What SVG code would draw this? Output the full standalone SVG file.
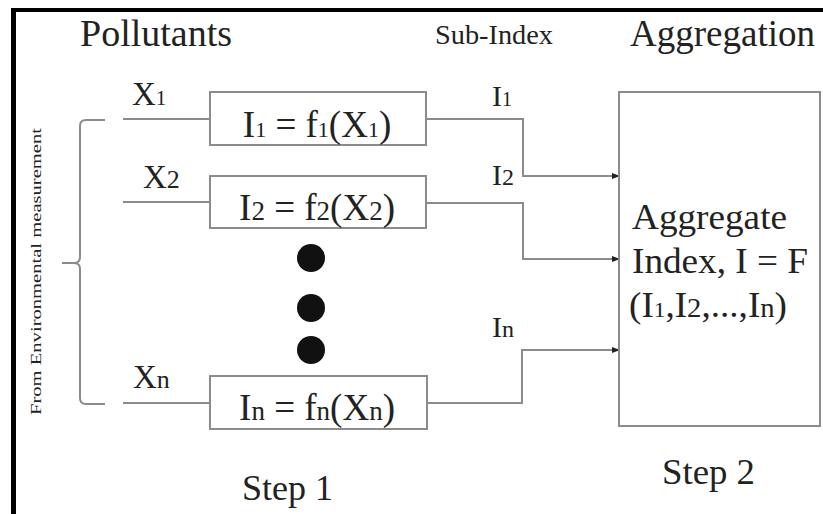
<svg xmlns="http://www.w3.org/2000/svg" width="823" height="514" viewBox="0 0 823 514">
<defs>
<style>
.t{font-family:"Liberation Serif","Times New Roman",serif;fill:#222;}
.box{fill:#fff;stroke:#8c8c8c;stroke-width:2;}
.ln{fill:none;stroke:#8c8c8c;stroke-width:2;}
</style>
<marker id="arr" markerWidth="8" markerHeight="6" refX="7" refY="3" orient="auto" markerUnits="userSpaceOnUse">
<path d="M0,0 L8,3 L0,6 Z" fill="#222"/>
</marker>
</defs>
<rect width="823" height="514" fill="#fff"/>
<rect x="11" y="8" width="812" height="4" fill="#000"/>
<rect x="11" y="8" width="5" height="506" fill="#000"/>

<g id="headers">
<text class="t" x="80" y="46" font-size="38" textLength="152" lengthAdjust="spacingAndGlyphs">Pollutants</text>
<text class="t" x="435" y="44" font-size="28" textLength="118" lengthAdjust="spacingAndGlyphs">Sub-Index</text>
<text class="t" x="630" y="46" font-size="37" textLength="185" lengthAdjust="spacingAndGlyphs">Aggregation</text>
<text class="t" x="242" y="500" font-size="36" textLength="91" lengthAdjust="spacingAndGlyphs">Step 1</text>
<text class="t" x="662" y="484" font-size="36" textLength="93" lengthAdjust="spacingAndGlyphs">Step 2</text>
</g>

<g id="source">
<path class="ln" d="M105,120 H86 Q80,120 80,126 V257 Q80,263 74,263 H62 M74,263 Q80,263 80,269 V398 Q80,404 86,404 H105"/>
<text class="t" transform="translate(41,415) rotate(-90)" font-size="14" textLength="287" lengthAdjust="spacingAndGlyphs">From Environmental measurement</text>
</g>

<g id="connectors">
<line class="ln" x1="123" y1="119" x2="210" y2="119"/>
<line class="ln" x1="123" y1="202" x2="210" y2="202"/>
<line class="ln" x1="123" y1="403" x2="210" y2="403"/>
<polyline class="ln" points="426,119 523,119 523,176 619,176" marker-end="url(#arr)"/>
<polyline class="ln" points="426,203 523,203 523,259 619,259" marker-end="url(#arr)"/>
<polyline class="ln" points="427,403 522,403 522,350 619,350" marker-end="url(#arr)"/>
</g>

<g id="labels">
<text class="t" x="132" y="105" font-size="33">X<tspan font-size="21">1</tspan></text>
<text class="t" x="143" y="188" font-size="33">X<tspan font-size="26">2</tspan></text>
<text class="t" x="133" y="388" font-size="33">X<tspan font-size="26">n</tspan></text>
<text class="t" x="492" y="106" font-size="30">I<tspan font-size="20">1</tspan></text>
<text class="t" x="492" y="185" font-size="30">I<tspan font-size="24">2</tspan></text>
<text class="t" x="492" y="337" font-size="30">I<tspan font-size="24">n</tspan></text>
</g>

<g id="node1">
<rect class="box" x="210" y="92" width="216" height="53"/>
<text class="t" x="317" y="137" font-size="37" text-anchor="middle">I<tspan font-size="22">1</tspan> = f<tspan font-size="22">1</tspan>(X<tspan font-size="22">1</tspan>)</text>
</g>
<g id="node2">
<rect class="box" x="210" y="176" width="216" height="52"/>
<text class="t" x="317" y="220" font-size="37" text-anchor="middle">I<tspan font-size="27">2</tspan> = f<tspan font-size="27">2</tspan>(X<tspan font-size="27">2</tspan>)</text>
</g>
<g id="dots">
<circle cx="311" cy="258" r="14" fill="#111"/>
<circle cx="311" cy="308" r="14" fill="#111"/>
<circle cx="311" cy="350" r="14" fill="#111"/>
</g>
<g id="noden">
<rect class="box" x="210" y="376" width="217" height="53"/>
<text class="t" x="317" y="420" font-size="37" text-anchor="middle">I<tspan font-size="27">n</tspan> = f<tspan font-size="27">n</tspan>(X<tspan font-size="27">n</tspan>)</text>
</g>
<g id="aggregate">
<rect class="box" x="619" y="92" width="201" height="334"/>
<text class="t" x="632" y="229" font-size="35" textLength="155" lengthAdjust="spacingAndGlyphs">Aggregate</text>
<text class="t" x="632" y="273" font-size="35" textLength="176" lengthAdjust="spacingAndGlyphs">Index, I = F</text>
<text class="t" x="629" y="317" font-size="35" textLength="158" lengthAdjust="spacingAndGlyphs">(I<tspan font-size="22">1</tspan>,I<tspan font-size="27">2</tspan>,...,I<tspan font-size="27">n</tspan>)</text>
</g>
</svg>
